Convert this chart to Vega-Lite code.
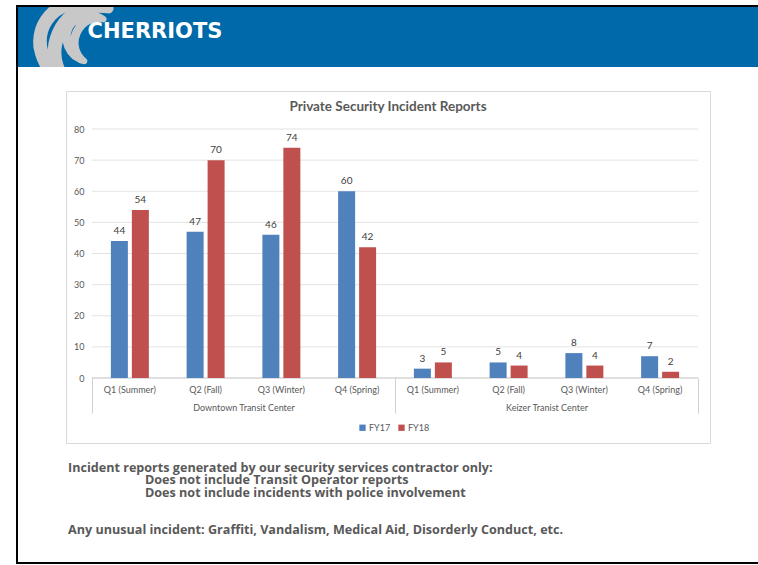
{
  "$schema": "https://vega.github.io/schema/vega-lite/v6.json",
  "background": "white",
  "padding": {"left": 16, "top": 5, "right": 0, "bottom": 0},
  "config": {"view": {"stroke": null}, "font": "Lato"},
  "spacing": 0,
  "bounds": "flush",
  "hconcat": [
    {
      "width": 2, "height": 559,
      "view": {"fill": "#000000", "stroke": null},
      "data": {"values": []},
      "mark": "text"
    },
    {
      "spacing": 0, "bounds": "flush", "center": true,
      "vconcat": [
        {
          "width": 740, "height": 2,
          "view": {"fill": "#000000", "stroke": null},
          "data": {"values": []},
          "mark": "text"
        },
        {
          "width": 740, "height": 60,
          "view": {"fill": "#0069aa", "stroke": null},
          "data": {"values": [{"name": "CHERRIOTS"}]},
          "layer": [
            {"mark": {"type": "text", "text": "☾", "font": "DejaVu Sans", "fontSize": 120, "color": "#c8c8c8", "stroke": "#c8c8c8", "strokeWidth": 9, "strokeJoin": "round", "angle": 25, "dx": -275.5, "dy": 143.0, "clip": true}},
            {"mark": {"type": "text", "text": "☾", "font": "DejaVu Sans", "fontSize": 65, "color": "#c8c8c8", "stroke": "#c8c8c8", "strokeWidth": 6, "strokeJoin": "round", "angle": 25, "dx": -271.0, "dy": 131.0, "clip": true}},
            {"mark": {"type": "text", "font": "DejaVu Sans", "fontWeight": "bold", "fontSize": 21, "color": "white", "dx": -233, "dy": -5},
             "encoding": {"text": {"field": "name"}}}
          ]
        },
        {
          "width": 740, "height": 24,
          "data": {"values": []},
          "mark": "text"
        },
        {
          "width": 644, "height": 352,
          "view": {"fill": "white", "stroke": "#d9d9d9", "strokeWidth": 1},
          "title": {"text": "Private Security Incident Reports", "offset": -22, "fontSize": 13.5, "fontWeight": "bold", "color": "#595959", "font": "Lato", "anchor": "middle"},
          "data": {"values": [
            {"key": "Downtown Transit Center|Q1 (Summer)", "fy": "FY17", "v": 44},
            {"key": "Downtown Transit Center|Q1 (Summer)", "fy": "FY18", "v": 54},
            {"key": "Downtown Transit Center|Q2 (Fall)", "fy": "FY17", "v": 47},
            {"key": "Downtown Transit Center|Q2 (Fall)", "fy": "FY18", "v": 70},
            {"key": "Downtown Transit Center|Q3 (Winter)", "fy": "FY17", "v": 46},
            {"key": "Downtown Transit Center|Q3 (Winter)", "fy": "FY18", "v": 74},
            {"key": "Downtown Transit Center|Q4 (Spring)", "fy": "FY17", "v": 60},
            {"key": "Downtown Transit Center|Q4 (Spring)", "fy": "FY18", "v": 42},
            {"key": "Keizer Tranist Center|Q1 (Summer)", "fy": "FY17", "v": 3},
            {"key": "Keizer Tranist Center|Q1 (Summer)", "fy": "FY18", "v": 5},
            {"key": "Keizer Tranist Center|Q2 (Fall)", "fy": "FY17", "v": 5},
            {"key": "Keizer Tranist Center|Q2 (Fall)", "fy": "FY18", "v": 4},
            {"key": "Keizer Tranist Center|Q3 (Winter)", "fy": "FY17", "v": 8},
            {"key": "Keizer Tranist Center|Q3 (Winter)", "fy": "FY18", "v": 4},
            {"key": "Keizer Tranist Center|Q4 (Spring)", "fy": "FY17", "v": 7},
            {"key": "Keizer Tranist Center|Q4 (Spring)", "fy": "FY18", "v": 2}
          ]},
          "layer": [
            {
              "layer": [
                {
                  "data": {"values": [{"g": 0}, {"g": 10}, {"g": 20}, {"g": 30}, {"g": 40}, {"g": 50}, {"g": 60}, {"g": 70}, {"g": 80}]},
                  "mark": {"type": "rule", "strokeWidth": 1},
                  "encoding": {
                    "y": {"field": "g", "type": "quantitative",
                          "scale": {"domain": [0, 80], "range": [287, 38], "nice": false},
                          "axis": {"orient": "left", "offset": -26, "values": [0, 10, 20, 30, 40, 50, 60, 70, 80], "labelPadding": 8, "ticks": false, "domain": false, "grid": false, "title": null, "labelFontSize": 9, "labelColor": "#595959", "labelFont": "Lato"}},
                    "x": {"datum": "Downtown Transit Center|Q1 (Summer)", "type": "nominal", "bandPosition": 0},
                    "x2": {"datum": "Keizer Tranist Center|Q4 (Spring)", "bandPosition": 1},
                    "color": {"condition": {"test": "datum.g === 0", "value": "#bfbfbf"}, "value": "#e3e3e3"}
                  }
                },
                {
                  "mark": {"type": "bar"},
                  "encoding": {
                    "x": {"field": "key", "type": "nominal", "sort": null,
                          "scale": {"domain": ["Downtown Transit Center|Q1 (Summer)", "Downtown Transit Center|Q2 (Fall)", "Downtown Transit Center|Q3 (Winter)", "Downtown Transit Center|Q4 (Spring)", "Keizer Tranist Center|Q1 (Summer)", "Keizer Tranist Center|Q2 (Fall)", "Keizer Tranist Center|Q3 (Winter)", "Keizer Tranist Center|Q4 (Spring)"], "paddingInner": 0, "paddingOuter": 0.2508, "align": 0.684},
                          "axis": {"orient": "bottom", "offset": -65, "labelExpr": "split(datum.value, '|')[1]", "ticks": false, "tickSize": 0, "domain": false, "grid": false, "title": null, "labelPadding": 7, "labelAngle": 0, "labelAlign": "center", "labelBaseline": "top", "labelFontSize": 9, "labelColor": "#595959", "labelFont": "Lato"}},
                    "xOffset": {"field": "fy", "type": "nominal", "scale": {"paddingInner": 0.19, "paddingOuter": 0.9}},
                    "y": {"field": "v", "type": "quantitative"},
                    "color": {"field": "fy", "type": "nominal",
                              "scale": {"domain": ["FY17", "FY18"], "range": ["#4f81bd", "#c0504d"]},
                              "legend": {"orient": "none", "legendX": 342, "legendY": 418, "direction": "horizontal", "title": null, "symbolType": "square", "symbolSize": 40, "labelFontSize": 9, "labelColor": "#595959", "labelFont": "Lato", "columnPadding": 6, "labelOffset": 2, "symbolStrokeWidth": 0, "padding": 0}}
                  }
                },
                {
                  "mark": {"type": "text", "dy": -10, "fontSize": 10, "color": "#404040", "font": "Lato"},
                  "encoding": {
                    "x": {"field": "key", "type": "nominal", "sort": null},
                    "xOffset": {"field": "fy", "type": "nominal"},
                    "y": {"field": "v", "type": "quantitative"},
                    "text": {"field": "v", "type": "quantitative"}
                  }
                }
              ]
            },
            {
              "data": {"values": [{"loc": "Downtown Transit Center"}, {"loc": "Keizer Tranist Center"}]},
              "mark": {"type": "rule", "opacity": 0},
              "encoding": {
                "x": {"field": "loc", "type": "nominal", "sort": null,
                      "scale": {"paddingInner": 0, "paddingOuter": 0.0627, "align": 0.684},
                      "axis": {"orient": "bottom", "offset": -65, "title": null, "domain": false, "ticks": true, "tickBand": "extent", "tickSize": 35, "tickColor": "#d0d0d0", "labelPadding": -10, "labelAngle": 0, "labelAlign": "center", "labelFontSize": 9, "labelColor": "#595959", "labelFont": "Lato", "grid": false}}
              }
            }
          ],
          "resolve": {"scale": {"x": "independent"}, "axis": {"x": "independent"}}
        },
        {
          "width": 740, "height": 10,
          "data": {"values": []},
          "mark": "text"
        },
        {
          "width": 740, "height": 109,
          "data": {"values": [
            {"line": 0, "indent": 0, "t": "Incident reports generated by our security services contractor only:"},
            {"line": 1, "indent": 1, "t": "Does not include Transit Operator reports"},
            {"line": 2, "indent": 1, "t": "Does not include incidents with police involvement"},
            {"line": 5, "indent": 0, "t": "Any unusual incident: Graffiti, Vandalism, Medical Aid, Disorderly Conduct, etc."}
          ]},
          "mark": {"type": "text", "align": "left", "baseline": "middle", "font": "Open Sans", "fontWeight": "bold", "fontSize": 12.6, "color": "#595959"},
          "encoding": {
            "x": {"field": "indent", "type": "quantitative", "scale": {"domain": [0, 1], "range": [50, 127]}, "axis": null},
            "y": {"field": "line", "type": "quantitative", "scale": {"domain": [0, 5], "range": [15, 77]}, "axis": null},
            "text": {"field": "t"}
          }
        },
        {
          "width": 740, "height": 2,
          "view": {"fill": "#000000", "stroke": null},
          "data": {"values": []},
          "mark": "text"
        }
      ]
    }
  ]
}
